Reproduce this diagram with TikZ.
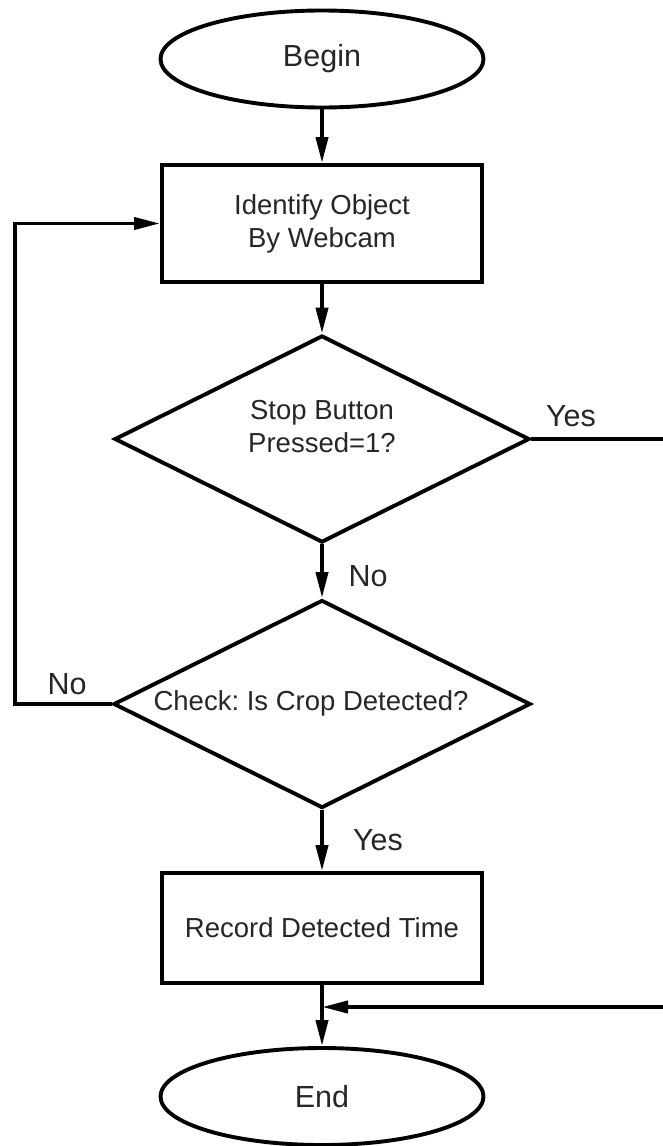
\documentclass[tikz,border=0pt]{standalone}
\usepackage{fontspec}
\setmainfont{Liberation Sans}
\usetikzlibrary{shapes.geometric,arrows.meta}
\frenchspacing
\begin{document}
\begin{tikzpicture}[x=1pt,y=-1pt,
  line width=3.9pt,
  every node/.style={text=black!85},
  mainfont/.style={font=\fontsize{27.5}{33}\selectfont},
  bigfont/.style={font=\fontsize{30.5}{36}\selectfont},
  term/.style={draw=black,ellipse,minimum width=323pt,minimum height=97pt,inner sep=0pt,bigfont},
  procbox/.style={draw=black,rectangle,minimum width=320pt,inner sep=0pt,align=center,mainfont},
  decision/.style={draw=black,diamond,minimum width=415pt,minimum height=207pt,inner sep=0pt,aspect=2},
  dtext/.style={align=center,mainfont,inner sep=0pt},
  lbl/.style={bigfont,inner sep=0pt},
  arr/.style={-{Triangle[length=26pt,width=12pt]}}
]
\useasboundingbox (0,0) rectangle (663,1146);
\clip (0,0) rectangle (663,1146);

\node[term] (begin) at (322,59) {Begin};
\node[procbox,minimum height=117pt] (ident) at (322,223.5) {Identify Object\\By Webcam};
\node[decision] (stop) at (322,439) {};
\node[dtext] (stoptext) at (322,427) {Stop Button\\Pressed=1?};
\node[decision,minimum width=417pt,minimum height=208pt] (check) at (322,704) {};
\node[dtext] (checktext) at (311,703) {Check: Is Crop Detected?};
\node[procbox,minimum height=110pt] (record) at (322,928) {Record Detected Time};
\node[term] (end) at (322,1096.5) {End};
\coordinate (join) at (322,1007);
\coordinate (leftx) at (15,704);
\coordinate (rightx) at (680,439);

\draw[arr] (begin.south) -- (ident.north);
\draw[arr] (ident.south) -- (stop.north);
\draw[arr] (stop.south) -- (check.north);
\draw[arr] (check.south) -- (record.north);
\draw (record.south) -- (join);
\draw[arr] (join) -- (end.north);
\draw[arr] (check.west) -- (leftx) |- (ident.west);
\draw[arr] (stop.east) -- (rightx) |- (join);

\node[lbl] (yes1) at (571,416) {Yes};
\node[lbl] (no1) at (368,576) {No};
\node[lbl] (no2) at (67,684) {No};
\node[lbl] (yes2) at (378,840) {Yes};
\end{tikzpicture}
\end{document}
